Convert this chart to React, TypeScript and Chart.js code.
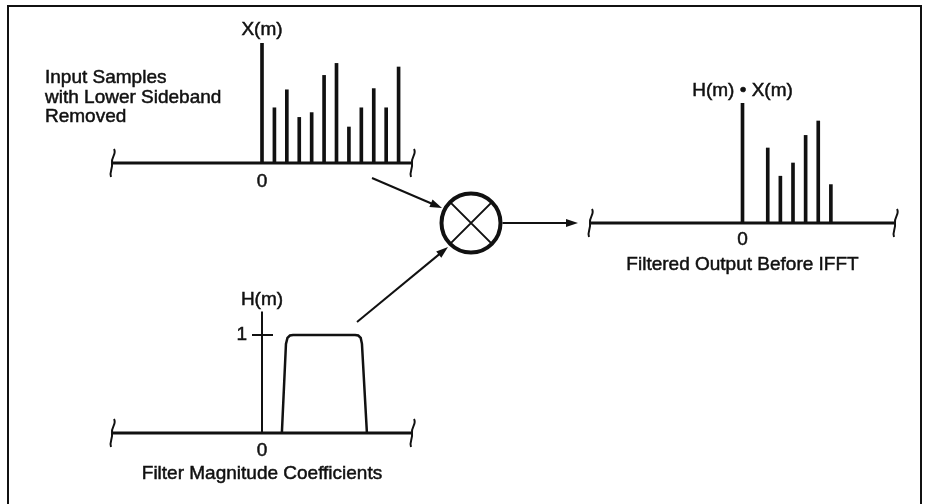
import React, { useEffect, useRef } from "react";
import { Chart, registerables } from "chart.js";

Chart.register(...registerables);

// ---------------- data ----------------
const binRange = [-12, 12];

// Input spectrum X(m) (lower sideband removed)
const inputBins = [0, 1, 2, 3, 4, 5, 6, 7, 8, 9, 10, 11];
const inputValues = [10, 4.6, 6.1, 3.8, 4.2, 7.3, 8.3, 3.0, 4.6, 6.2, 4.6, 8.0];

// Filter magnitude H(m) outline
const filterBins = [1.6, 1.93, 2.05, 2.25, 2.5, 7.5, 7.75, 7.95, 8.05, 8.45];
const filterValues = [0, 0.91, 0.97, 0.995, 1, 1, 0.995, 0.97, 0.91, 0];
const filterTicks = [1];

// Filtered output H(m)·X(m)
const outputBins = [0, 2, 3, 4, 5, 6, 7];
const outputValues = [10, 6.25, 3.9, 5.0, 7.3, 8.5, 3.2];

// ---------------- text ----------------
const inputTitle = "X(m)";
const inputCaption = ["Input Samples", "with Lower Sideband", "Removed"];
const filterTitle = "H(m)";
const filterCaption = "Filter Magnitude Coefficients";
const outputTitle = "H(m) \u2022 X(m)";
const outputCaption = "Filtered Output Before IFFT";
const zeroLabel = "0";

// ---------------- style / layout ----------------
const W = 926;
const H = 504;
const INK = "#111111";
const FONT = '19px "Liberation Sans", Arial, Helvetica, sans-serif';

const padInput = { left: 113, right: W - 411, top: 43, bottom: H - 163 };
const padFilter = { left: 113, right: W - 411, top: 311.5, bottom: H - 433 };
const padOutput = { left: 591, right: W - 894, top: 103, bottom: H - 223 };

function text(ctx: CanvasRenderingContext2D, s: string, x: number, y: number) {
  ctx.fillText(s, x, y);
  ctx.save();
  ctx.lineWidth = 0.5;
  ctx.strokeText(s, x, y);
  ctx.restore();
}

function brace(ctx: CanvasRenderingContext2D, x: number, y: number) {
  ctx.save();
  ctx.lineWidth = 2;
  ctx.beginPath();
  ctx.moveTo(x + 2, y - 14);
  ctx.bezierCurveTo(x + 5, y - 9, x - 1, y - 6, x, y);
  ctx.bezierCurveTo(x + 1, y + 6, x - 3, y + 9, x - 1, y + 14);
  ctx.stroke();
  ctx.restore();
}

function arrow(ctx: CanvasRenderingContext2D, x1: number, y1: number, x2: number, y2: number) {
  const a = Math.atan2(y2 - y1, x2 - x1);
  const len = 12;
  const hw = 4;
  ctx.save();
  ctx.lineWidth = 2;
  ctx.beginPath();
  ctx.moveTo(x1, y1);
  ctx.lineTo(x2 - Math.cos(a) * len * 0.8, y2 - Math.sin(a) * len * 0.8);
  ctx.stroke();
  ctx.beginPath();
  ctx.moveTo(x2, y2);
  ctx.lineTo(x2 - Math.cos(a) * len - Math.sin(a) * hw, y2 - Math.sin(a) * len + Math.cos(a) * hw);
  ctx.lineTo(x2 - Math.cos(a) * len + Math.sin(a) * hw, y2 - Math.sin(a) * len - Math.cos(a) * hw);
  ctx.closePath();
  ctx.fill();
  ctx.restore();
}

function axisPlugin(kind: "input" | "filter" | "output") {
  return {
    id: "axis_" + kind,
    afterDraw(chart: any) {
      const ctx: CanvasRenderingContext2D = chart.ctx;
      const xs = chart.scales.x;
      const ys = chart.scales.y;
      const x0 = xs.getPixelForValue(0);
      const y0 = ys.getPixelForValue(0);
      const xL = xs.getPixelForValue(binRange[0]);
      const xR = xs.getPixelForValue(binRange[1]);
      ctx.save();
      ctx.strokeStyle = INK;
      ctx.fillStyle = INK;
      // baseline
      ctx.lineWidth = 3;
      ctx.beginPath();
      ctx.moveTo(xL, y0);
      ctx.lineTo(xR, y0);
      ctx.stroke();
      brace(ctx, xL - 1, y0);
      brace(ctx, xR + 1, y0);

      ctx.font = FONT;
      ctx.textBaseline = "alphabetic";
      ctx.textAlign = "center";

      if (kind === "input") {
        text(ctx, inputTitle, x0, ys.top - 8);
        text(ctx, zeroLabel, x0, y0 + 24);
        ctx.textAlign = "left";
        inputCaption.forEach((line, i) => {
          text(ctx, line, xs.left - 68, ys.top + 40 + i * 19.5);
        });
      } else if (kind === "filter") {
        // vertical axis
        ctx.lineWidth = 2;
        ctx.beginPath();
        ctx.moveTo(x0, y0);
        ctx.lineTo(x0, ys.top);
        ctx.stroke();
        filterTicks.forEach((t) => {
          const yt = ys.getPixelForValue(t);
          ctx.beginPath();
          ctx.moveTo(x0 - 10, yt);
          ctx.lineTo(x0 + 11, yt);
          ctx.stroke();
          ctx.textAlign = "right";
          text(ctx, String(t), x0 - 15, yt + 5);
        });
        ctx.textAlign = "center";
        text(ctx, filterTitle, x0, ys.top - 6.5);
        text(ctx, zeroLabel, x0, y0 + 23);
        text(ctx, filterCaption, x0, y0 + 46);
      } else {
        text(ctx, outputTitle, x0, ys.top - 7);
        text(ctx, zeroLabel, x0, y0 + 22);
        text(ctx, outputCaption, x0, y0 + 47);

        // frame (open at bottom)
        ctx.lineWidth = 2;
        ctx.beginPath();
        ctx.moveTo(8, H);
        ctx.lineTo(8, 6);
        ctx.lineTo(921, 6);
        ctx.lineTo(921, H);
        ctx.stroke();

        // multiplier
        const cx = 471;
        const cy = y0;
        const r = 29.5;
        ctx.lineWidth = 4;
        ctx.beginPath();
        ctx.arc(cx, cy, r, 0, Math.PI * 2);
        ctx.stroke();
        ctx.lineWidth = 2;
        const d = (r - 1) * Math.SQRT1_2;
        ctx.beginPath();
        ctx.moveTo(cx - d, cy - d);
        ctx.lineTo(cx + d, cy + d);
        ctx.moveTo(cx - d, cy + d);
        ctx.lineTo(cx + d, cy - d);
        ctx.stroke();

        arrow(ctx, 372, 178, 442, 208);
        arrow(ctx, 357, 322, 448, 247);
        arrow(ctx, cx + r + 2, cy, xL - 13, cy);
      }
      ctx.restore();
    },
  };
}

function makeOptions(pad: any, yMax: number) {
  return {
    responsive: false,
    maintainAspectRatio: false,
    animation: false,
    devicePixelRatio: 1,
    events: [],
    layout: { padding: pad },
    plugins: {
      legend: { display: false },
      tooltip: { enabled: false },
      title: { display: false },
    },
    scales: {
      x: { type: "linear", min: binRange[0], max: binRange[1], offset: false, display: false },
      y: { type: "linear", min: 0, max: yMax, display: false },
    },
  };
}

export default function App() {
  const inRef = useRef<HTMLCanvasElement>(null);
  const filRef = useRef<HTMLCanvasElement>(null);
  const outRef = useRef<HTMLCanvasElement>(null);

  useEffect(() => {
    const charts: Chart[] = [];
    if (inRef.current) {
      charts.push(
        new Chart(inRef.current, {
          type: "bar",
          data: {
            datasets: [
              {
                data: inputBins.map((m, i) => ({ x: m, y: inputValues[i] })),
                backgroundColor: INK,
                borderWidth: 0,
                barThickness: 3,
              },
            ],
          },
          options: makeOptions(padInput, 10) as any,
          plugins: [axisPlugin("input")],
        })
      );
    }
    if (filRef.current) {
      charts.push(
        new Chart(filRef.current, {
          type: "line",
          data: {
            datasets: [
              {
                data: filterBins.map((m, i) => ({ x: m, y: filterValues[i] })),
                borderColor: INK,
                borderWidth: 2.5,
                pointRadius: 0,
                tension: 0,
                fill: false,
              },
            ],
          },
          options: makeOptions(padFilter, 1.24) as any,
          plugins: [axisPlugin("filter")],
        })
      );
    }
    if (outRef.current) {
      charts.push(
        new Chart(outRef.current, {
          type: "bar",
          data: {
            datasets: [
              {
                data: outputBins.map((m, i) => ({ x: m, y: outputValues[i] })),
                backgroundColor: INK,
                borderWidth: 0,
                barThickness: 3,
              },
            ],
          },
          options: makeOptions(padOutput, 10) as any,
          plugins: [axisPlugin("output")],
        })
      );
    }
    return () => charts.forEach((c) => c.destroy());
  }, []);

  const cs: React.CSSProperties = {
    position: "absolute",
    left: 0,
    top: 0,
    width: W,
    height: H,
  };

  return (
    <div style={{ position: "absolute", left: 0, top: 0, width: W, height: H, background: "#fff" }}>
      <canvas ref={inRef} width={W} height={H} style={cs} />
      <canvas ref={filRef} width={W} height={H} style={cs} />
      <canvas ref={outRef} width={W} height={H} style={cs} />
    </div>
  );
}
